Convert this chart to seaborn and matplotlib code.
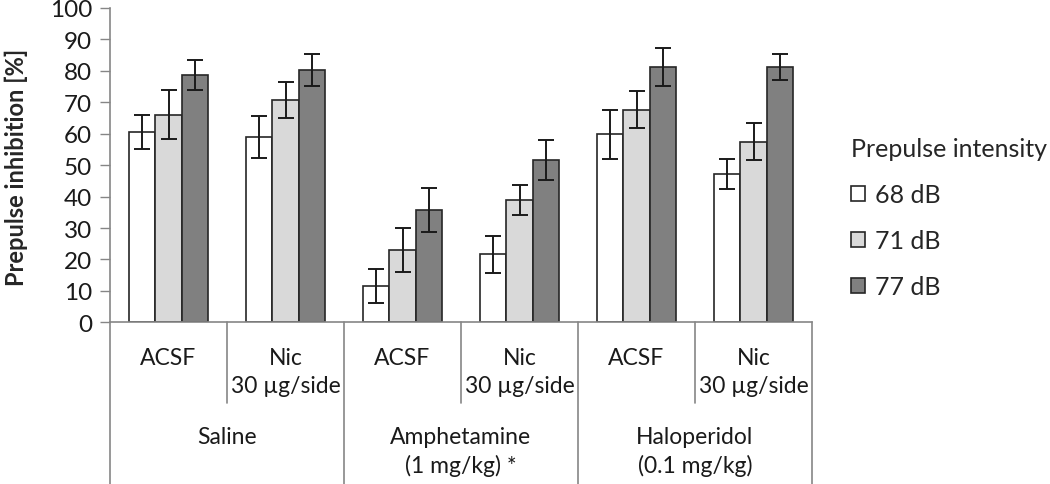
import matplotlib
matplotlib.use("Agg")
import matplotlib.pyplot as plt
import matplotlib.transforms as mtransforms
import seaborn as sns
import pandas as pd

# data
conditions = ["Saline ACSF", "Saline Nic", "Amph ACSF", "Amph Nic", "Halo ACSF", "Halo Nic"]
cond_labels = ["ACSF", "Nic\n30 µg/side"] * 3
group_labels = ["Saline", "Amphetamine\n(1 mg/kg) *", "Haloperidol\n(0.1 mg/kg)"]
intensities = ["68 dB", "71 dB", "77 dB"]

pi_68 = [60.4, 59.0, 11.5, 21.6, 59.9, 47.3]
pi_71 = [66.1, 70.7, 23.1, 39.0, 67.7, 57.5]
pi_77 = [78.8, 80.4, 35.6, 51.6, 81.2, 81.2]
err_68 = [5.4, 6.6, 5.3, 6.0, 7.8, 4.8]
err_71 = [7.9, 5.8, 7.0, 4.8, 5.8, 5.8]
err_77 = [4.8, 5.1, 7.0, 6.3, 6.0, 4.1]

colors = ["#ffffff", "#d9d9d9", "#808080"]

df = pd.DataFrame({
    "cond": conditions * 3,
    "pi": pi_68 + pi_71 + pi_77,
    "intensity": [i for i in intensities for _ in conditions],
})
errs = [err_68, err_71, err_77]

sns.set_style("white")
plt.rcParams["font.family"] = ["Lato", "DejaVu Sans"]

fig = plt.figure(figsize=(10.5, 4.85), dpi=100)
ax = fig.add_axes([110 / 1050, 1 - 323.3 / 485, 702 / 1050, 314.3 / 485])

sns.barplot(data=df, x="cond", y="pi", hue="intensity", order=conditions,
            hue_order=intensities, palette=colors, edgecolor="#262626",
            linewidth=1.2, width=0.67, gap=0, errorbar=None, ax=ax)

# error bars on top of each bar
for cont, err in zip(ax.containers, errs):
    xs = [p.get_x() + p.get_width() / 2 for p in cont.patches]
    hs = [p.get_height() for p in cont.patches]
    ax.errorbar(xs, hs, yerr=err, fmt="none", ecolor="#1a1a1a",
                elinewidth=1.4, capsize=6, capthick=1.4, zorder=5)

ax.set_ylim(0, 100)
ax.set_yticks(range(0, 101, 10))
ax.set_xlim(-0.5, 5.5)
ax.set_xticks([])
ax.set_xlabel("")
ax.set_ylabel("Prepulse inhibition [%]", fontsize=17, fontweight="bold")
ax.yaxis.set_label_coords(-0.117, 0.495)
ax.tick_params(axis="y", labelsize=17.5, length=7, width=1, color="#868686",
               left=True, pad=6, labelcolor="#1a1a1a")
for s in ["top", "right"]:
    ax.spines[s].set_visible(False)
for s in ["left", "bottom"]:
    ax.spines[s].set_color("#868686")
    ax.spines[s].set_linewidth(1.2)

# two-level category axis
trans = mtransforms.blended_transform_factory(ax.transData, ax.transAxes)
for xb in [-0.5, 1.5, 3.5, 5.5]:
    ax.plot([xb, xb], [0, -0.52], color="#868686", lw=1.2, transform=trans, clip_on=False)
for xb in [0.5, 2.5, 4.5]:
    ax.plot([xb, xb], [0, -0.257], color="#868686", lw=1.2, transform=trans, clip_on=False)
for i, lab in enumerate(cond_labels):
    ax.text(i, -0.078, lab, transform=trans, ha="center", va="top", fontsize=16.5,
            linespacing=1.4, color="#1a1a1a")
for g, lab in enumerate(group_labels):
    ax.text(2 * g + 0.5, -0.33, lab, transform=trans, ha="center", va="top",
            fontsize=16.5, linespacing=1.4, color="#1a1a1a")

handles, labels = ax.get_legend_handles_labels()
leg = ax.legend(handles, labels, title="Prepulse intensity", loc="upper left",
                bbox_to_anchor=(851 / 1050, 1 - 138 / 485), bbox_transform=fig.transFigure,
                frameon=False, fontsize=18, title_fontsize=18, alignment="left",
                borderpad=0, borderaxespad=0,
                handlelength=0.55, handleheight=0.55, handletextpad=0.4,
                labelspacing=0.92)
for h in leg.legend_handles:
    h.set_edgecolor("#262626")

fig.savefig("out.png", dpi=100)
